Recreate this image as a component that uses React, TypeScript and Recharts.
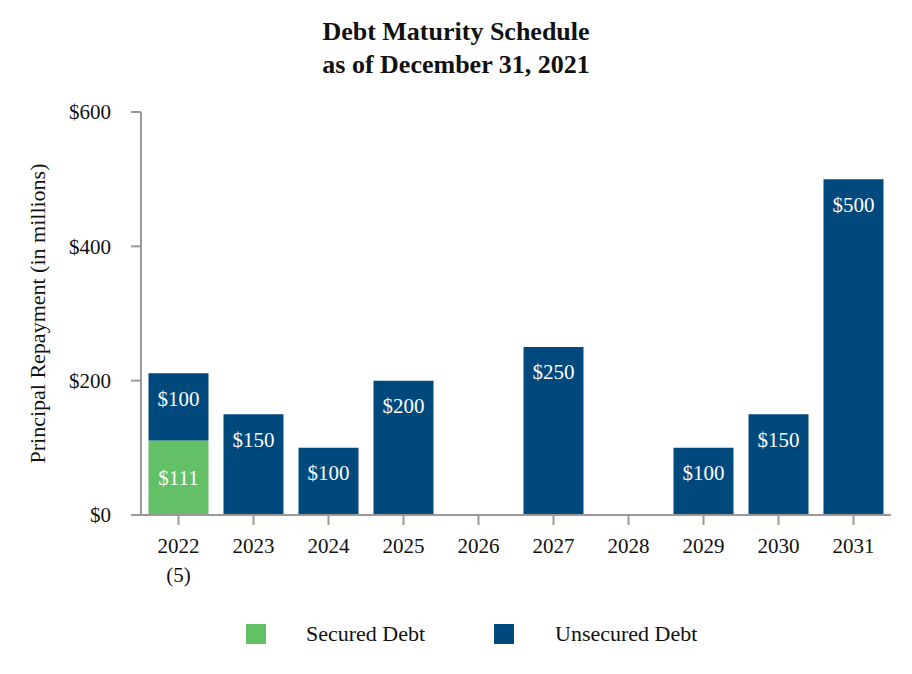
import { BarChart, Bar, XAxis, YAxis, LabelList } from 'recharts';

const years = ['2022', '2023', '2024', '2025', '2026', '2027', '2028', '2029', '2030', '2031'];
const secured = [111, 0, 0, 0, 0, 0, 0, 0, 0, 0];
const unsecured = [100, 150, 100, 200, 0, 250, 0, 100, 150, 500];
const yTicks = [0, 200, 400, 600];

const GREEN = '#63c067';
const NAVY = '#00497c';
const FONT = '"Liberation Serif", "Times New Roman", serif';

const data = years.map((year, i) => ({ year, secured: secured[i], unsecured: unsecured[i] }));

const XTick = (props: any) => {
  const { x, y, payload } = props;
  return (
    <g transform={`translate(${x},${y})`}>
      <text x={0} y={26} textAnchor="middle" fill="#111" fontSize={21} fontFamily={FONT}>
        {payload.value}
      </text>
      {payload.value === '2022' && (
        <text x={0} y={55} textAnchor="middle" fill="#111" fontSize={21} fontFamily={FONT}>
          (5)
        </text>
      )}
    </g>
  );
};

const dollarLabel = (position: 'insideTop' | 'center') => (props: any) => {
  const { x, y, width, height, value } = props;
  if (!value) return null;
  const cy = position === 'center' ? y + height / 2 : y + 25;
  return (
    <text x={x + width / 2} y={cy} dy="0.35em" textAnchor="middle" fill="#fff" fontSize={21} fontFamily={FONT}>
      ${value}
    </text>
  );
};

export default function App() {
  return (
    <div style={{ position: 'absolute', left: 0, top: 0, width: 912, height: 674, fontFamily: FONT, background: '#fff' }}>
      <div style={{ position: 'absolute', left: 0, top: 15, width: 912, textAlign: 'center', fontWeight: 'bold', fontSize: 26, lineHeight: '33px', color: '#111' }}>
        Debt Maturity Schedule
        <br />
        as of December 31, 2021
      </div>
      <BarChart
        width={912}
        height={674}
        data={data}
        margin={{ top: 112, right: 21, left: 0, bottom: 99 }}
        barCategoryGap="10%"
      >
        <YAxis
          width={141}
          domain={[0, 600]}
          ticks={yTicks}
          tickFormatter={(v: number) => `$${v}`}
          stroke="#999"
          strokeWidth={2}
          tickSize={10}
          tickMargin={20}
          tick={{ fill: '#111', fontSize: 21, fontFamily: FONT }}
          label={{
            value: 'Principal Repayment (in millions)',
            angle: -90,
            position: 'insideLeft',
            offset: 37,
            style: { textAnchor: 'middle', fill: '#111', fontSize: 22, fontFamily: FONT },
          }}
        />
        <XAxis
          dataKey="year"
          height={60}
          stroke="#999"
          strokeWidth={2}
          tickSize={10}
          interval={0}
          tick={<XTick />}
        />
        <Bar dataKey="secured" stackId="a" fill={GREEN} isAnimationActive={false}>
          <LabelList dataKey="secured" content={dollarLabel('center')} />
        </Bar>
        <Bar dataKey="unsecured" stackId="a" fill={NAVY} isAnimationActive={false}>
          <LabelList dataKey="unsecured" content={dollarLabel('insideTop')} />
        </Bar>
      </BarChart>
      <div style={{ position: 'absolute', left: 246, top: 624, width: 20, height: 20, background: GREEN }} />
      <div style={{ position: 'absolute', left: 306, top: 620, fontSize: 22, lineHeight: '28px', color: '#111' }}>Secured Debt</div>
      <div style={{ position: 'absolute', left: 494, top: 624, width: 20, height: 20, background: NAVY }} />
      <div style={{ position: 'absolute', left: 555, top: 620, fontSize: 22, lineHeight: '28px', color: '#111' }}>Unsecured Debt</div>
    </div>
  );
}
